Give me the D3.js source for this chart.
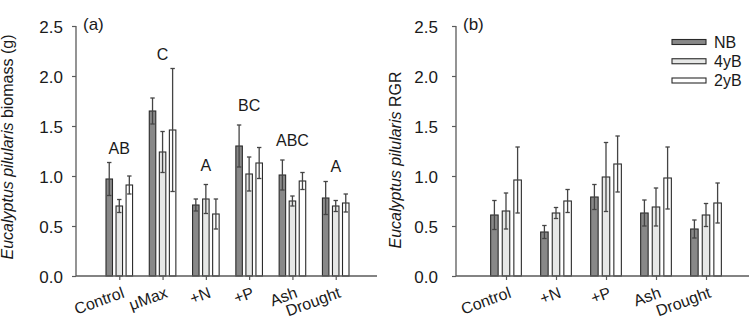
<!DOCTYPE html>
<html><head><meta charset="utf-8">
<script src="https://cdn.jsdelivr.net/npm/d3@7"></script>
<style>
body{margin:0;background:#fff}
text{font-family:"Liberation Sans",Arial,Helvetica,sans-serif;fill:#1a1a1a}
</style>
</head><body>
<svg id="chart" width="749" height="320"></svg>
<script>
// ---------- data ----------
const seriesNames = ["NB", "4yB", "2yB"];
const yTicks = [0, 0.5, 1.0, 1.5, 2.0, 2.5];

// panel (a): biomass (g)
const catsA = ["Control", "μMax", "+N", "+P", "Ash", "Drought"];
const nbA   = [0.97, 1.65, 0.71, 1.30, 1.01, 0.78];
const y4A   = [0.70, 1.24, 0.77, 1.02, 0.75, 0.70];
const y2A   = [0.91, 1.46, 0.62, 1.13, 0.95, 0.73];
const nbErrA = [0.165, 0.13, 0.06, 0.21, 0.15, 0.165];
const y4ErrA = [0.065, 0.205, 0.145, 0.17, 0.05, 0.055];
const y2ErrA = [0.09, 0.615, 0.15, 0.155, 0.085, 0.09];
const lettersA   = ["AB", "C", "A", "BC", "ABC", "A"];
const letterValA = [1.22, 2.16, 1.05, 1.65, 1.30, 1.04];

// panel (b): RGR
const catsB = ["Control", "+N", "+P", "Ash", "Drought"];
const nbB   = [0.61, 0.44, 0.79, 0.63, 0.47];
const y4B   = [0.65, 0.63, 0.99, 0.69, 0.61];
const y2B   = [0.96, 0.75, 1.12, 0.98, 0.73];
const nbErrB = [0.145, 0.065, 0.125, 0.13, 0.09];
const y4ErrB = [0.18, 0.055, 0.345, 0.19, 0.115];
const y2ErrB = [0.33, 0.115, 0.28, 0.31, 0.20];

// ---------- styles ----------
const fills = ["#888888", "#e6e7e6", "#ffffff"];
const axisColor = "#5a5a5a";
const svg = d3.select("#chart");

function drawPanel(cfg) {
  const g = svg.append("g");
  const x = d3.scaleLinear().domain([0, cfg.cats.length + 1]).range([cfg.left, cfg.right]);
  const y = d3.scaleLinear().domain([0, 2.5]).range([276, 26]);
  const step = x(1) - x(0);
  const bw = step * 0.15;
  const off = step * 0.232;

  const series = [cfg.nb, cfg.y4, cfg.y2];
  const errs = [cfg.nbErr, cfg.y4Err, cfg.y2Err];
  series.forEach((vals, s) => {
    const cx = i => x(i + 1) + (s - 1) * off;
    g.selectAll(null).data(vals).enter().append("rect")
      .attr("x", (d, i) => cx(i) - bw / 2)
      .attr("y", d => y(d))
      .attr("width", bw)
      .attr("height", d => y(0) - y(d))
      .attr("fill", fills[s])
      .attr("stroke", "#2a2a2a")
      .attr("stroke-width", 1.1);
    const eg = g.selectAll(null).data(vals).enter().append("g");
    eg.append("line")
      .attr("x1", (d, i) => cx(i)).attr("x2", (d, i) => cx(i))
      .attr("y1", (d, i) => y(d + errs[s][i])).attr("y2", (d, i) => y(d - errs[s][i]))
      .attr("stroke", "#444").attr("stroke-width", 1.3);
    eg.append("line")
      .attr("x1", (d, i) => cx(i) - 2.2).attr("x2", (d, i) => cx(i) + 2.2)
      .attr("y1", (d, i) => y(d + errs[s][i])).attr("y2", (d, i) => y(d + errs[s][i]))
      .attr("stroke", "#444").attr("stroke-width", 1.3);
    eg.append("line")
      .attr("x1", (d, i) => cx(i) - 2.2).attr("x2", (d, i) => cx(i) + 2.2)
      .attr("y1", (d, i) => y(d - errs[s][i])).attr("y2", (d, i) => y(d - errs[s][i]))
      .attr("stroke", "#444").attr("stroke-width", 1.3);
  });

  // y axis
  const yAxis = g.append("g").attr("transform", `translate(${cfg.left},0)`)
    .call(d3.axisLeft(y).tickValues(yTicks).tickFormat(d3.format(".1f")).tickSize(4).tickPadding(cfg.tickPad));
  yAxis.select(".domain").attr("stroke", axisColor).attr("stroke-width", 1.3).attr("d", `M0,${y(2.5)}V${y(0)}`);
  yAxis.selectAll(".tick line").attr("stroke", axisColor).attr("stroke-width", 1.2);
  yAxis.selectAll(".tick text").attr("font-size", 17).attr("fill", "#1a1a1a")
    .attr("font-family", '"Liberation Sans",Arial,sans-serif').attr("dy", "0.38em");

  // x axis
  const xAxis = g.append("g").attr("transform", `translate(0,${y(0)})`)
    .call(d3.axisBottom(x).tickValues(cfg.cats.map((c, i) => i + 1)).tickSize(4).tickFormat(""));
  xAxis.select(".domain").attr("stroke", axisColor).attr("stroke-width", 1.4).attr("d", `M${cfg.left},0H${cfg.axisEnd}`);
  xAxis.selectAll(".tick line").attr("stroke", axisColor).attr("stroke-width", 1.2);

  // category labels
  g.selectAll(null).data(cfg.cats).enter().append("text")
    .attr("transform", (d, i) => `translate(${x(i + 1) + 6},297) rotate(-20)`)
    .attr("text-anchor", "end")
    .attr("font-size", 16)
    .text(d => d);

  // y title
  const yt = g.append("text")
    .attr("transform", `translate(${cfg.titleX},${cfg.titleY}) rotate(-90)`)
    .attr("text-anchor", "middle").attr("font-size", 16);
  yt.append("tspan").attr("font-style", "italic").text("Eucalyptus pilularis");
  yt.append("tspan").text(" " + cfg.titleRest);

  // panel label
  g.append("text").attr("x", cfg.left + 7).attr("y", 30).attr("font-size", 17).text(cfg.panel);

  // significance letters
  if (cfg.letters) {
    g.selectAll(null).data(cfg.letters).enter().append("text")
      .attr("x", (d, i) => x(i + 1))
      .attr("y", (d, i) => y(cfg.letterVals[i]))
      .attr("text-anchor", "middle").attr("font-size", 16)
      .text(d => d);
  }
}

drawPanel({
  cats: catsA, nb: nbA, y4: y4A, y2: y2A, nbErr: nbErrA, y4Err: y4ErrA, y2Err: y2ErrA,
  left: 76, right: 379, axisEnd: 377, tickPad: 9,
  titleX: 13, titleY: 147, titleRest: "biomass (g)", panel: "(a)",
  letters: lettersA, letterVals: letterValA
});
drawPanel({
  cats: catsB, nb: nbB, y4: y4B, y2: y2B, nbErr: nbErrB, y4Err: y4ErrB, y2Err: y2ErrB,
  left: 456, right: 756, axisEnd: 749, tickPad: 14,
  titleX: 401, titleY: 160, titleRest: "RGR", panel: "(b)"
});

// legend
const lg = svg.append("g");
const ly = d3.scalePoint().domain(seriesNames).range([42, 80.5]);
lg.selectAll(null).data(seriesNames).enter().append("rect")
  .attr("x", 672).attr("y", d => ly(d) - 2.5).attr("width", 34).attr("height", 5)
  .attr("fill", (d, i) => fills[i]).attr("stroke", "#2a2a2a").attr("stroke-width", 1.1);
lg.selectAll(null).data(seriesNames).enter().append("text")
  .attr("x", 714).attr("y", d => ly(d)).attr("dy", "0.36em").attr("font-size", 16)
  .text(d => d);
</script>
</body></html>
